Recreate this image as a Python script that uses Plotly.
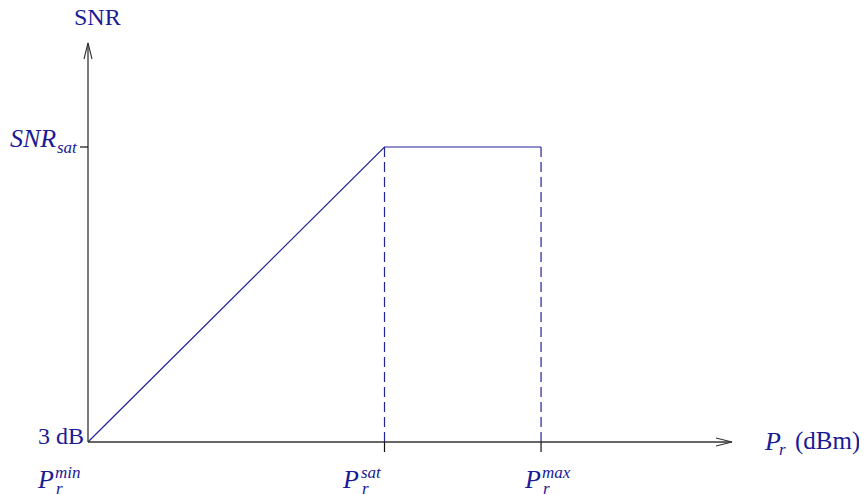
import plotly.graph_objects as go

# Normalised chart values: received power relative to P_sat, SNR relative to SNR_sat
x_points = [0.0, 1.0, 1.528]          # P_r^min, P_r^sat, P_r^max
snr_points = [0.0, 1.0, 1.0]          # 3 dB -> SNR_sat -> SNR_sat
x_tick_names = ["min", "sat", "max"]
y_tick_labels = ["3 dB", "<i>SNR</i>"]
y_tick_vals = [0.0, 1.0]

LINE = "#23239a"
TEXT = "#1a1a96"
AXIS = "#333333"
FONT = "Liberation Serif"

# page body has an 8px margin, so the figure is drawn 8px in from the corner
W, H = 859, 487
OX, OY = 80, 434
SX, SY = 296.5, 295.0
x_end = (724 - OX) / SX
y_end = (OY - 35) / SY


def dx(px):
    return px / SX


def dy(px):
    return px / SY


fig = go.Figure()

# main curve
fig.add_trace(go.Scatter(
    x=x_points, y=snr_points, mode="lines",
    line=dict(color=LINE, width=1.2), hoverinfo="skip", showlegend=False,
))

# dashed drop lines at sat and max
for xv, yv in zip(x_points[1:], snr_points[1:]):
    fig.add_trace(go.Scatter(
        x=[xv, xv], y=[yv, 0], mode="lines",
        line=dict(color=LINE, width=1.2, dash="10px,5px"),
        hoverinfo="skip", showlegend=False,
    ))

shapes = []
# axes
shapes.append(dict(type="line", x0=0, y0=0, x1=x_end, y1=0, line=dict(color=AXIS, width=1.3)))
shapes.append(dict(type="line", x0=0, y0=0, x1=0, y1=y_end, line=dict(color=AXIS, width=1.3)))
# open arrowheads
shapes.append(dict(type="path",
                   path=f"M {x_end - dx(16)},{dy(4)} L {x_end},0 L {x_end - dx(16)},{-dy(4)}",
                   line=dict(color=AXIS, width=1.1)))
shapes.append(dict(type="path",
                   path=f"M {-dx(4)},{y_end - dy(16)} L 0,{y_end} L {dx(4)},{y_end - dy(16)}",
                   line=dict(color=AXIS, width=1.1)))
# ticks
for xv in x_points[1:]:
    shapes.append(dict(type="line", x0=xv, y0=0, x1=xv, y1=-dy(10), line=dict(color="#111111", width=1.2)))
shapes.append(dict(type="line", x0=-dx(8), y0=1, x1=0, y1=1, line=dict(color="#111111", width=1.2)))

ann = []


def label(x, y, text, size, xshift, yshift, xanchor="left"):
    ann.append(dict(x=x, y=y, xref="x", yref="y", text=text, showarrow=False,
                    xanchor=xanchor, yanchor="middle", xshift=xshift, yshift=yshift,
                    font=dict(family=FONT, size=size, color=TEXT)))


# axis titles
label(0, y_end, "SNR", 24, 9, 26, xanchor="center")
label(x_end, 0, "<i>P</i>", 26, 30, 1)
label(x_end, 0, "<i>r</i>", 17, 45, -7)
label(x_end, 0, "(dBm)", 25, 61, 1)

# y tick labels
label(0, y_tick_vals[0], y_tick_labels[0], 24, -2, 6, xanchor="right")
label(0, y_tick_vals[1], y_tick_labels[1], 26, -30, 9, xanchor="right")
label(0, y_tick_vals[1], "<i>sat</i>", 17, -8, 0, xanchor="right")

# x tick labels P_r^name: (P offset, superscript offset) in px from the tick
p_offsets = [(-53, -35), (-45, -26), (-19, -1)]
for xv, name, (p_off, sup_off) in zip(x_points, x_tick_names, p_offsets):
    label(xv, 0, "<i>P</i>", 26, p_off, -37)
    label(xv, 0, "<i>r</i>", 17, sup_off + 1, -46)
    label(xv, 0, f"<i>{name}</i>", 17, sup_off, -30)

fig.update_layout(
    width=W, height=H,
    margin=dict(l=0, r=0, t=0, b=0),
    plot_bgcolor="white", paper_bgcolor="white",
    xaxis=dict(range=[-OX / SX, (W - OX) / SX], visible=False, fixedrange=True),
    yaxis=dict(range=[-(H - OY) / SY, OY / SY], visible=False, fixedrange=True),
    shapes=shapes, annotations=ann, showlegend=False,
)

fig.write_html("out.html")
